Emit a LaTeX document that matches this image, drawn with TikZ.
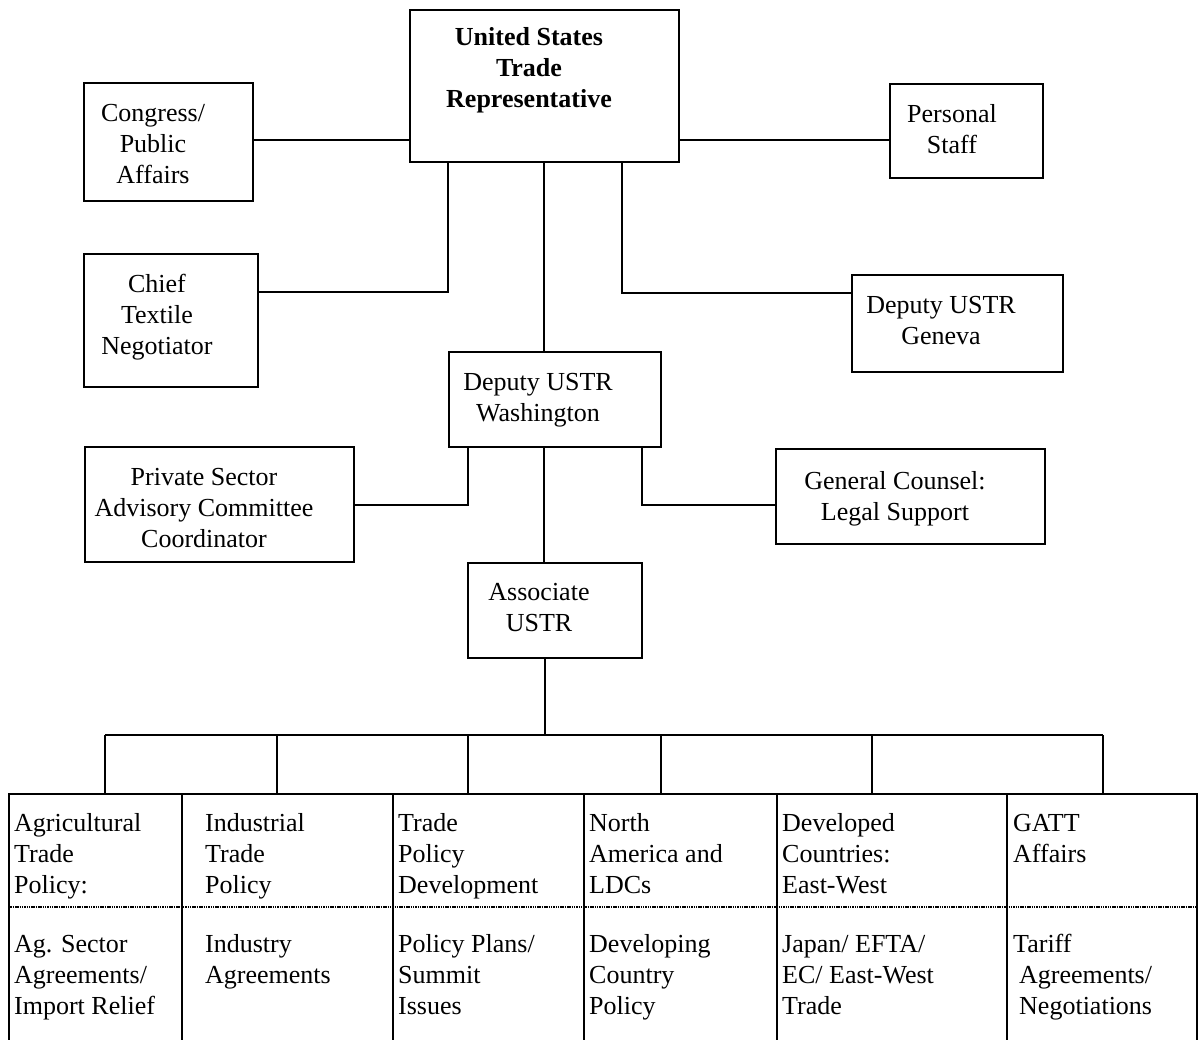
\documentclass[tikz,border=0pt]{standalone}
\usepackage{fontspec}
\setmainfont{Liberation Serif}
\newcommand{\fl}{\rule{0pt}{18.5pt}}
\begin{document}
\begin{tikzpicture}[x=1pt,y=-1pt,
  box/.style={draw, line width=1.8pt, rectangle, inner sep=0pt},
  conn/.style={line width=1.8pt},
  sep/.style={line width=1.1pt, dash pattern=on 1.5pt off 0.8pt},
  txt/.style={inner sep=0pt, align=center, anchor=north, font=\fontsize{26}{31}\selectfont},
  ltxt/.style={inner sep=0pt, align=left, anchor=north west, font=\fontsize{26}{31}\selectfont}]
\useasboundingbox (0,0) rectangle (1200,1040);
\fill[white] (0,0) rectangle (1200,1040);

% boxes
\node[box, minimum width=269pt, minimum height=152pt] (ustr) at (544.5,86) {};
\node[box, minimum width=169pt, minimum height=118pt] (cong) at (168.5,142) {};
\node[box, minimum width=153pt, minimum height=94pt] (pers) at (966.5,131) {};
\node[box, minimum width=174pt, minimum height=133pt] (chief) at (171,320.5) {};
\node[box, minimum width=211pt, minimum height=97pt] (gen) at (957.5,323.5) {};
\node[box, minimum width=212pt, minimum height=95pt] (wash) at (555,399.5) {};
\node[box, minimum width=269pt, minimum height=115pt] (priv) at (219.5,504.5) {};
\node[box, minimum width=269pt, minimum height=95pt] (couns) at (910.5,496.5) {};
\node[box, minimum width=174pt, minimum height=95pt] (assoc) at (555,610.5) {};

\node[box, minimum width=173pt, minimum height=250pt] (c1) at (95.5,919) {};
\node[box, minimum width=211pt, minimum height=250pt] (c2) at (287.5,919) {};
\node[box, minimum width=191pt, minimum height=250pt] (c3) at (488.5,919) {};
\node[box, minimum width=193pt, minimum height=250pt] (c4) at (680.5,919) {};
\node[box, minimum width=230pt, minimum height=250pt] (c5) at (892,919) {};
\node[box, minimum width=190pt, minimum height=250pt] (c6) at (1102,919) {};

% texts
\node[txt, font=\fontsize{26}{31}\selectfont\bfseries] (tustr) at (529,26.5) {\fl United States\\Trade\\Representative};
\node[txt] (tcong) at (153,102.5) {\fl Congress/\\Public\\Affairs};
\node[txt] (tpers) at (952,103.5) {\fl Personal\\Staff};
\node[txt] (tchief) at (157,273.5) {\fl Chief\\Textile\\Negotiator};
\node[txt] (tgen) at (941,294.5) {\fl Deputy USTR\\Geneva};
\node[txt] (twash) at (538,371.5) {\fl Deputy USTR\\Washington};
\node[txt] (tpriv) at (204,466.5) {\fl Private Sector\\Advisory Committee\\Coordinator};
\node[txt] (tcouns) at (895,470.5) {\fl General Counsel:\\Legal Support};
\node[txt] (tassoc) at (539,581.5) {\fl Associate\\USTR};

\node[ltxt] (u1) at (14,812.5) {\fl Agricultural\\Trade\\Policy:};
\node[ltxt] (u2) at (205,812.5) {\fl Industrial\\Trade\\Policy};
\node[ltxt] (u3) at (398,812.5) {\fl Trade\\Policy\\Development};
\node[ltxt] (u4) at (589,812.5) {\fl North\\America and\\LDCs};
\node[ltxt] (u5) at (782,812.5) {\fl Developed\\Countries:\\East-West};
\node[ltxt] (u6) at (1013,812.5) {\fl GATT\\Affairs};
\node[ltxt] (l1) at (14,933.5) {\fl Ag. Sector\\Agreements/\\Import Relief};
\node[ltxt] (l2) at (205,933.5) {\fl Industry\\Agreements};
\node[ltxt] (l3) at (398,933.5) {\fl Policy Plans/\\Summit\\Issues};
\node[ltxt] (l4) at (589,933.5) {\fl Developing\\Country\\Policy};
\node[ltxt] (l5) at (782,933.5) {\fl Japan/ EFTA/\\EC/ East-West\\Trade};
\node[ltxt] (l6) at (1013,933.5) {\fl Tariff\\\hspace{6pt}Agreements/\\\hspace{6pt}Negotiations};

% helper coordinates
\coordinate (hc) at (0,140);
\coordinate (hch) at (0,292);
\coordinate (hge) at (0,293);
\coordinate (hpr) at (0,505);
\coordinate (dl) at (0,907);
\coordinate (xa) at (448,0);
\coordinate (xb) at (544,0);
\coordinate (xc) at (622,0);
\coordinate (xd) at (468,0);
\coordinate (xe) at (642,0);
\coordinate (bus) at (545,735);
\coordinate (b1) at (105,735);
\coordinate (b2) at (277,735);
\coordinate (b3) at (468,735);
\coordinate (b4) at (661,735);
\coordinate (b5) at (872,735);
\coordinate (b6) at (1103,735);

% connectors
\draw[conn] (cong.east |- hc) -- (ustr.west |- hc);
\draw[conn] (ustr.east |- hc) -- (pers.west |- hc);
\draw[conn] (xa |- ustr.south) -- (xa |- hch) -- (chief.east |- hch);
\draw[conn] (xc |- ustr.south) -- (xc |- hge) -- (gen.west |- hge);
\draw[conn] (xb |- ustr.south) -- (xb |- wash.north);
\draw[conn] (xd |- wash.south) -- (xd |- hpr) -- (priv.east |- hpr);
\draw[conn] (xe |- wash.south) -- (xe |- hpr) -- (couns.west |- hpr);
\draw[conn] (xb |- wash.south) -- (xb |- assoc.north);
\draw[conn] (bus |- assoc.south) -- (bus);
\draw[conn] (b1) -- (b6);
\draw[conn] (b1) -- (b1 |- c1.north);
\draw[conn] (b2) -- (b2 |- c2.north);
\draw[conn] (b3) -- (b3 |- c3.north);
\draw[conn] (b4) -- (b4 |- c4.north);
\draw[conn] (b5) -- (b5 |- c5.north);
\draw[conn] (b6) -- (b6 |- c6.north);

% dotted separator
\draw[sep] (c1.west |- dl) -- (c6.east |- dl);
\end{tikzpicture}
\end{document}
